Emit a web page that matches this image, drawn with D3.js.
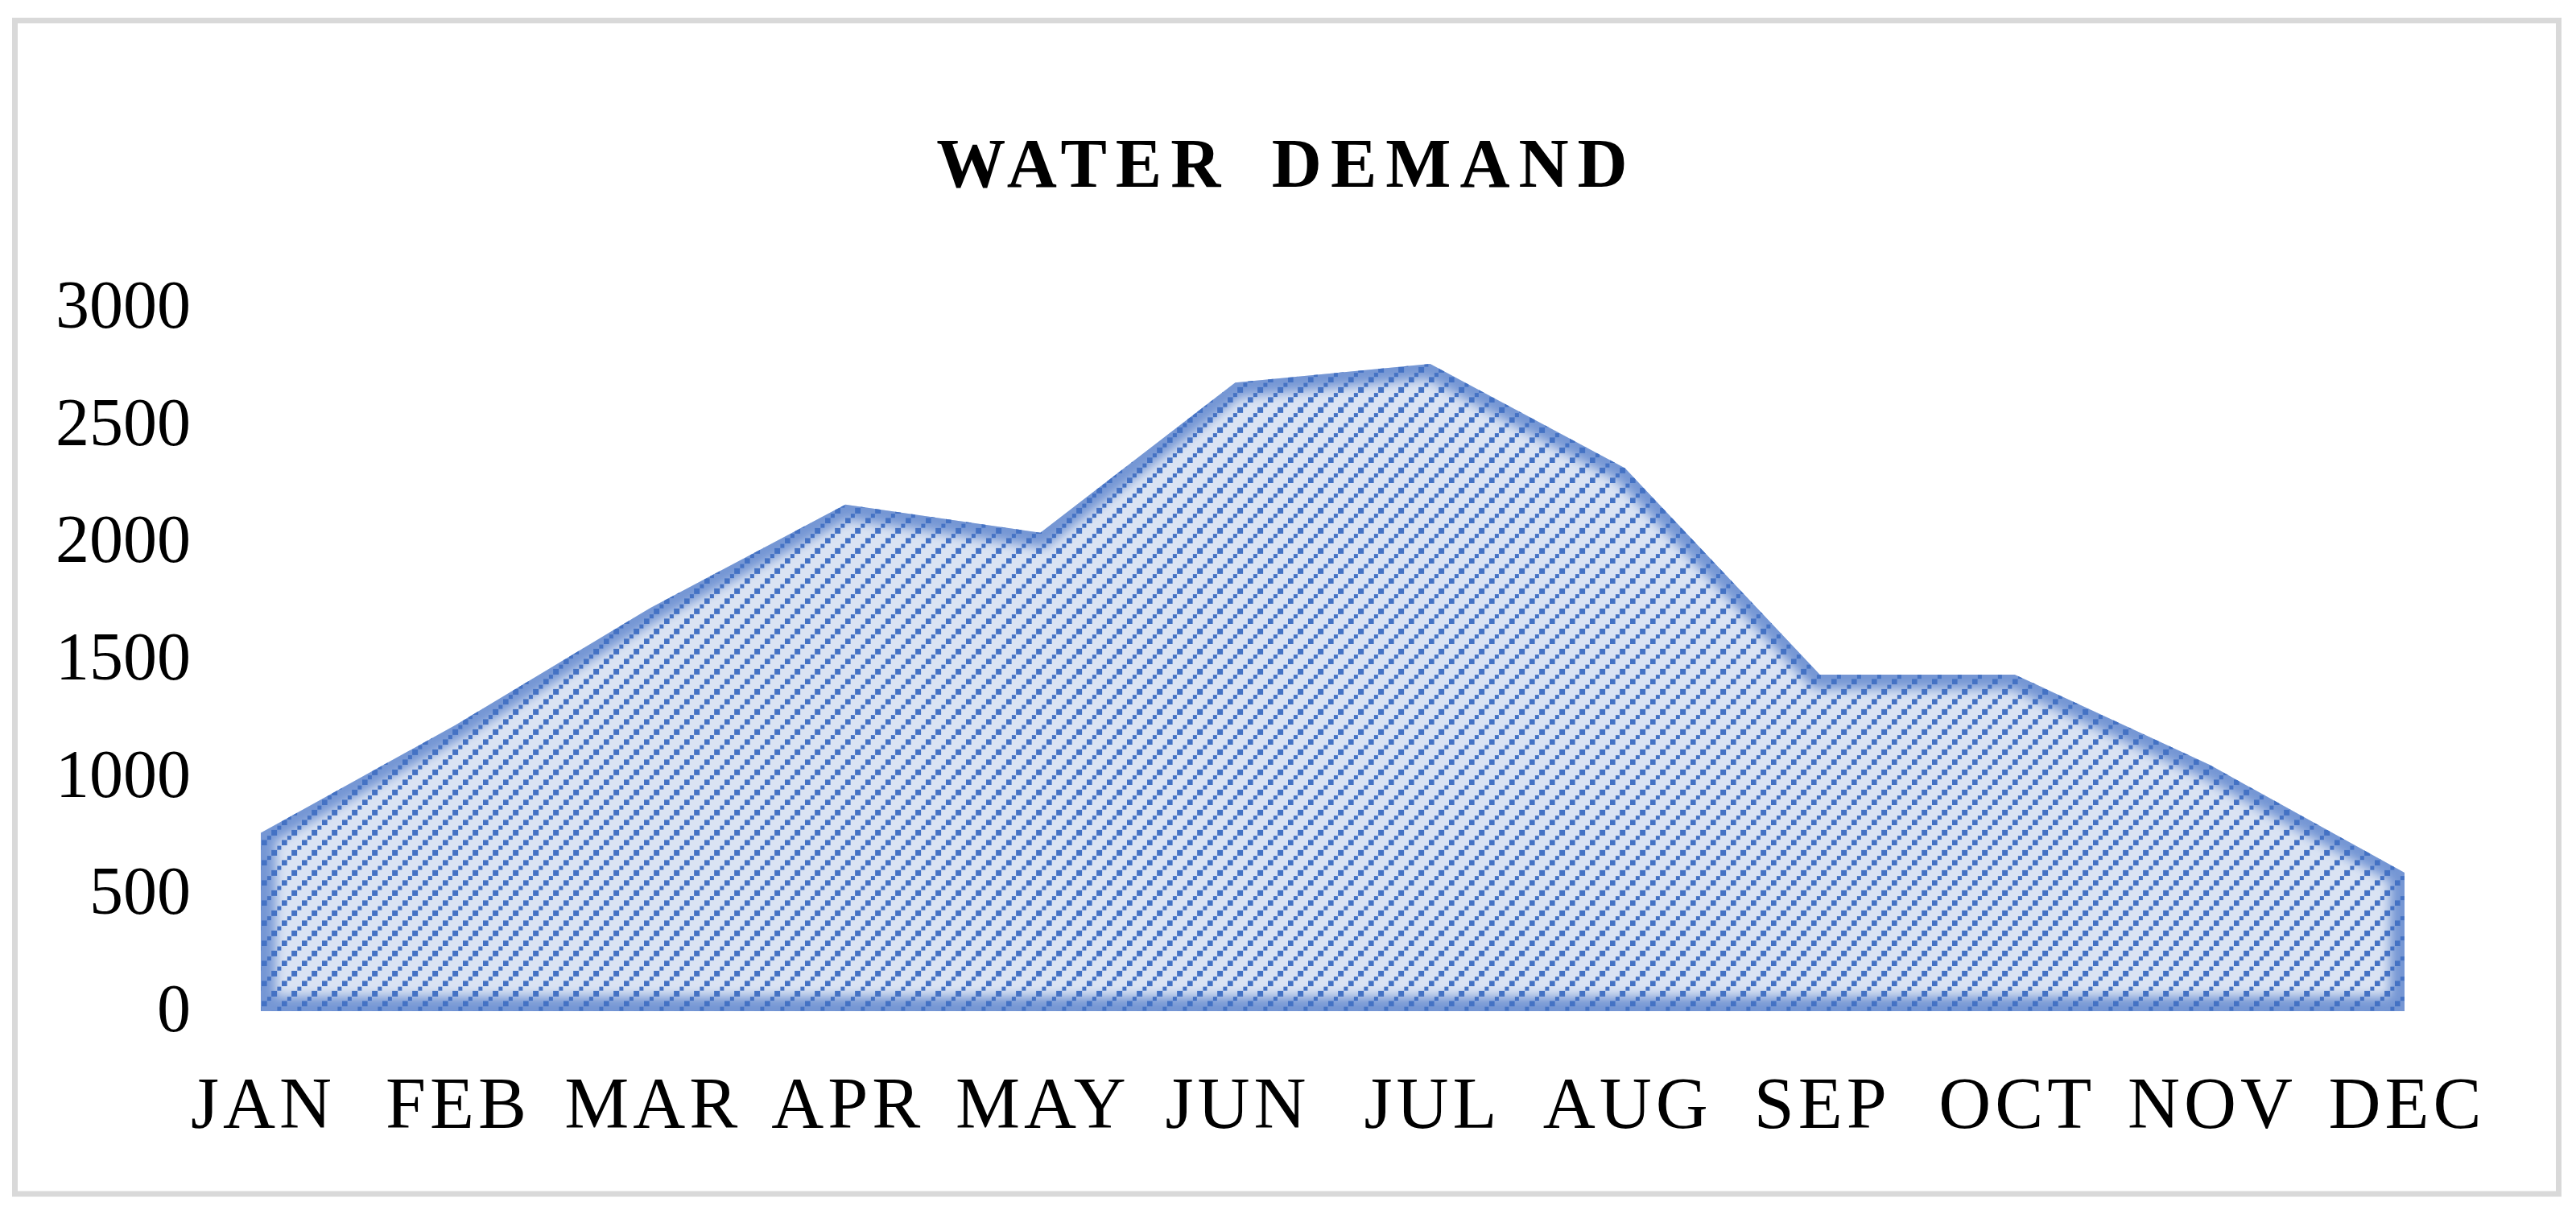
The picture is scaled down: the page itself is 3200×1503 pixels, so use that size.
<!DOCTYPE html>
<html>
<head>
<meta charset="utf-8">
<style>
  body { margin: 0; background: #fff; }
  svg { display: block; }
  .axis .domain { display: none; }
  .axis text { fill: #000; font-family: "Palatino Linotype", "Book Antiqua", Palatino, "Liberation Serif", serif; }
</style>
</head>
<body>
<svg width="3200" height="1503"></svg>
<script src="https://d3js.org/d3.v7.min.js"></script>
<script>

// data
var months = ["JAN", "FEB", "MAR", "APR", "MAY", "JUN", "JUL", "AUG", "SEP", "OCT", "NOV", "DEC"];
var demand = [760, 1220, 1720, 2160, 2040, 2680, 2760, 2315, 1435, 1435, 1050, 590];
var yTicks = [0, 500, 1000, 1500, 2000, 2500, 3000];
var title = "WATER DEMAND";

var svg = d3.select("svg"),
    W = +svg.attr("width"),
    H = +svg.attr("height");

var x = d3.scalePoint()
    .domain(months)
    .range([324, 2987]);

var y = d3.scaleLinear()
    .domain([0, 3000])
    .range([1256, 382]);

var data = months.map(function(m, i) { return {month: m, value: demand[i]}; });

// outer frame
svg.append("rect")
    .attr("x", 18.5)
    .attr("y", 25.5)
    .attr("width", 3160)
    .attr("height", 1457.5)
    .attr("fill", "#fff")
    .attr("stroke", "#d9d9d9")
    .attr("stroke-width", 7);

var defs = svg.append("defs");

// dashed upward diagonal pattern (squares only, transparent background)
var pat = defs.append("pattern")
    .attr("id", "hatch")
    .attr("patternUnits", "userSpaceOnUse")
    .attr("width", 25)
    .attr("height", 25);
[[0, 18.75, 7], [6.25, 12.5, 5], [12.5, 6.25, 7], [18.75, 0, 5]].forEach(function(s) {
  var off = (6.25 - s[2]) / 2;
  pat.append("rect")
      .attr("x", s[0] + off)
      .attr("y", s[1] + off)
      .attr("width", s[2])
      .attr("height", s[2])
      .attr("fill", "#4472c4");
});

var blur = defs.append("filter")
    .attr("id", "glow")
    .attr("x", "-10%").attr("y", "-10%")
    .attr("width", "120%").attr("height", "120%");
blur.append("feGaussianBlur").attr("stdDeviation", 7);

var area = d3.area()
    .x(function(d) { return x(d.month); })
    .y0(y(0))
    .y1(function(d) { return y(d.value); });

defs.append("clipPath")
    .attr("id", "areaClip")
  .append("path")
    .attr("d", area(data));

var g = svg.append("g");

g.append("path")
    .datum(data)
    .attr("d", area)
    .attr("fill", "#dae3f3");

// soft inner glow along the edges
g.append("path")
    .datum(data)
    .attr("d", area)
    .attr("fill", "none")
    .attr("stroke", "#7596d4")
    .attr("stroke-width", 36)
    .attr("stroke-linejoin", "round")
    .attr("filter", "url(#glow)")
    .attr("clip-path", "url(#areaClip)");

g.append("path")
    .datum(data)
    .attr("d", area)
    .attr("fill", "url(#hatch)");

// y axis
svg.append("g")
    .attr("class", "axis")
    .attr("transform", "translate(237,0)")
    .call(d3.axisLeft(y).tickValues(yTicks).tickFormat(d3.format("d")).tickSize(0).tickPadding(0))
    .call(function(a) {
      a.selectAll("text")
          .attr("font-size", 84)
          .attr("dy", "0.29em");
    });

// x axis
svg.append("g")
    .attr("class", "axis")
    .attr("transform", "translate(0," + y(0) + ")")
    .call(d3.axisBottom(x).tickSize(0).tickPadding(0))
    .call(function(a) {
      a.selectAll("text")
          .attr("font-size", 90)
          .attr("letter-spacing", 5)
          .attr("y", 145)
          .attr("dx", 2.5)
          .attr("dy", 0);
    });

// title
svg.append("text")
    .attr("x", 1598)
    .attr("y", 232)
    .attr("text-anchor", "middle")
    .attr("font-family", "\"Palatino Linotype\", \"Book Antiqua\", Palatino, \"Liberation Serif\", serif")
    .attr("font-weight", "bold")
    .attr("font-size", 86)
    .attr("letter-spacing", 11)
    .attr("word-spacing", 20)
    .attr("fill", "#000")
    .text(title);

</script>
</body>
</html>
